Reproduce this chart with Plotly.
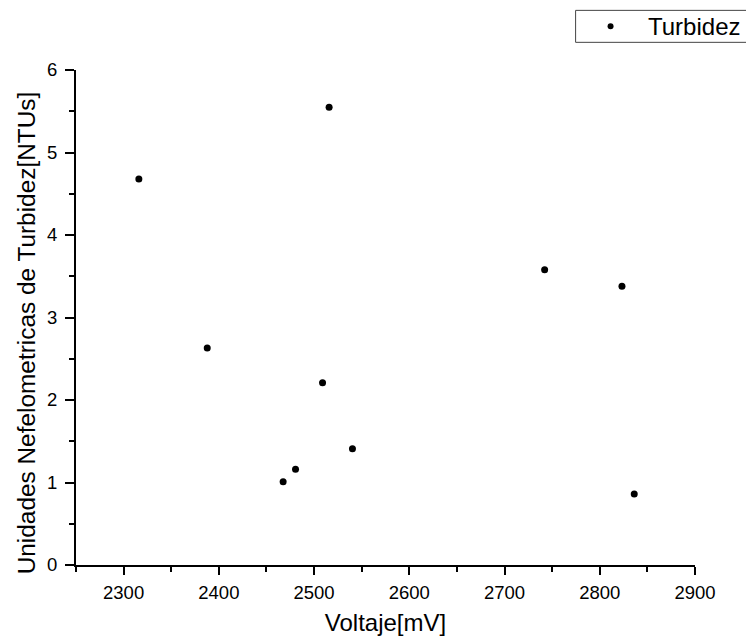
import plotly.graph_objects as go

# Turbidity readings against sensor voltage
voltaje_mv = [2316, 2387.8, 2467.5, 2480.5, 2508.9, 2515.8, 2540.3, 2742.1, 2823.3, 2836.2]
turbidez_ntu = [4.68, 2.63, 1.01, 1.16, 2.21, 5.55, 1.41, 3.58, 3.38, 0.86]

x_ticks = [2300, 2400, 2500, 2600, 2700, 2800, 2900]
y_ticks = [0, 1, 2, 3, 4, 5, 6]

serie = "Turbidez"
titulo_x = "Voltaje[mV]"
titulo_y = "Unidades Nefelometricas de Turbidez[NTUs]"

FONT = "Arial, Liberation Sans, sans-serif"

W, H = 746, 642
ML, MR, MT, MB = 76, 50.5, 69.7, 76.7
PW, PH = W - ML - MR, H - MT - MB


def px_x(p):
    """pixel column -> paper x"""
    return (p - ML) / PW


def px_y(p):
    """pixel row -> paper y"""
    return (H - MB - p) / PH


fig = go.Figure()
fig.add_trace(go.Scatter(
    x=voltaje_mv,
    y=turbidez_ntu,
    mode="markers",
    name=serie,
    marker=dict(color="black", size=7, symbol="circle"),
    showlegend=False,
))

# Legend box in the top right corner, running off the page edge
shapes = [
    dict(type="rect", xref="paper", yref="paper",
         x0=px_x(576), x1=px_x(770), y0=px_y(42), y1=px_y(10),
         line=dict(color="#444444", width=1), fillcolor="white", layer="above"),
    dict(type="circle", xref="paper", yref="paper",
         x0=px_x(608), x1=px_x(614), y0=px_y(29), y1=px_y(23),
         line=dict(color="black", width=0), fillcolor="black", layer="above"),
]

annotations = [
    dict(text=serie, xref="paper", yref="paper", x=px_x(646), y=px_y(26.5),
         xanchor="left", yanchor="middle", showarrow=False,
         font=dict(family=FONT, size=24, color="black")),
    dict(text=titulo_y, xref="paper", yref="paper", x=px_x(26), y=px_y(333.3),
         xanchor="center", yanchor="middle", textangle=-90, showarrow=False,
         font=dict(family=FONT, size=24.4, color="black")),
]

fig.update_layout(
    width=W,
    height=H,
    margin=dict(l=ML, r=MR, t=MT, b=MB, autoexpand=False),
    paper_bgcolor="white",
    plot_bgcolor="white",
    font=dict(family=FONT, color="black"),
    showlegend=False,
    shapes=shapes,
    annotations=annotations,
)

fig.update_xaxes(
    range=[2250, 2900],
    tickvals=x_ticks,
    ticktext=[str(v) for v in x_ticks],
    showgrid=False, zeroline=False,
    showline=True, linecolor="black", linewidth=2,
    ticks="outside", ticklen=8, tickwidth=2, tickcolor="black",
    tickfont=dict(family=FONT, size=18.5, color="black"),
    ticklabelstandoff=2,
    minor=dict(dtick=50, tick0=2250, ticks="outside", ticklen=5, tickwidth=2, tickcolor="black", showgrid=False),
    title=dict(text=titulo_x, font=dict(family=FONT, size=24, color="black"), standoff=12),
)

fig.update_yaxes(
    range=[0, 6],
    tickvals=y_ticks,
    ticktext=[str(v) for v in y_ticks],
    showgrid=False, zeroline=False,
    showline=True, linecolor="black", linewidth=2,
    ticks="outside", ticklen=9, tickwidth=2, tickcolor="black",
    tickfont=dict(family=FONT, size=18.5, color="black"),
    ticklabelstandoff=4,
    minor=dict(dtick=0.5, tick0=0, ticks="outside", ticklen=5, tickwidth=2, tickcolor="black", showgrid=False),
)

fig.write_html("out.html")
